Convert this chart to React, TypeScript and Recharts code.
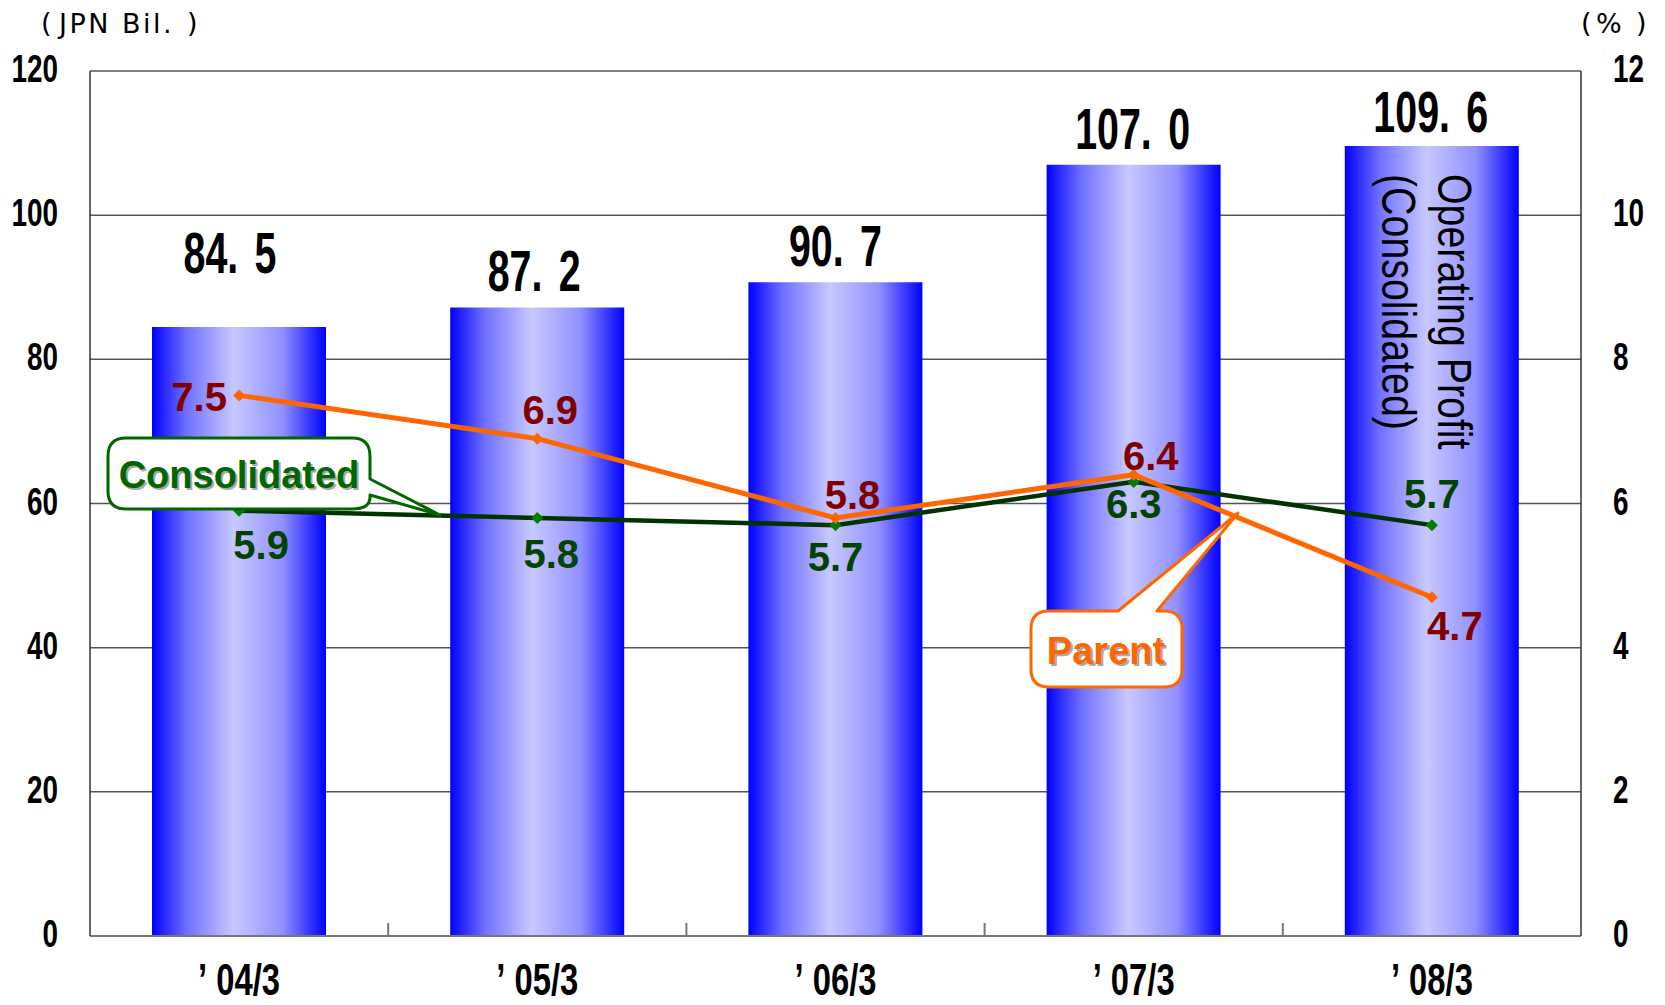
import React from "react";
import { Bar, CartesianGrid, ComposedChart, LabelList, Line, XAxis, YAxis } from "recharts";

const periods = ["’04/3", "’05/3", "’06/3", "’07/3", "’08/3"];
const operatingProfit = [84.5, 87.2, 90.7, 107.0, 109.6];
const parentMargin = [7.5, 6.9, 5.8, 6.4, 4.7];
const consolidatedMargin = [5.9, 5.8, 5.7, 6.3, 5.7];
const profitTicks = [0, 20, 40, 60, 80, 100, 120];
const marginTicks = [0, 2, 4, 6, 8, 10, 12];

const data = periods.map((period, i) => ({
  period,
  profit: operatingProfit[i],
  parent: parentMargin[i],
  consolidated: consolidatedMargin[i],
}));

const W = 1665;
const H = 1005;
const PLOT_LEFT = 90;
const PLOT_RIGHT = 1581;
const CAT_W = (PLOT_RIGHT - PLOT_LEFT) / periods.length;

const SANS = "'Liberation Sans', Arial, sans-serif";
const WIDE = "'DejaVu Sans', Verdana, sans-serif";

// hand-placed label nudges (centre of text relative to the point)
const parentLabelShift = [[-40, 2], [13, -29], [17, -23], [17, -19], [23, 29]];
const consolidatedLabelShift = [[22, 34], [14, 36], [0, 32], [0, 22], [0, -31]];
const barLabelGap = [54, 16, 16, 16, 14];
const barLabelDx = [-9, -3, 0, -1, -1];

// narrow + tall text, to mimic the condensed gothic digits of the original
function TallText({ x, y, anchor = "middle", size, scaleX = 0.82, scaleY = 1, fill = "#000", weight = "bold", children }: any) {
  return (
    <text
      transform={`translate(${x},${y}) scale(${scaleX},${scaleY})`}
      textAnchor={anchor}
      fontSize={size}
      fontWeight={weight}
      fontFamily={SANS}
      fill={fill}
    >
      {children}
    </text>
  );
}

function LeftTick({ x, y, payload }: any) {
  return <TallText x={x} y={y + 11} anchor="end" size={34} scaleY={1.12}>{payload.value}</TallText>;
}

function RightTick({ x, y, payload }: any) {
  return <TallText x={x} y={y + 11} anchor="start" size={34} scaleY={1.12}>{payload.value}</TallText>;
}

function PeriodTick({ x, y, payload, index }: any) {
  const label = String(payload.value);
  return (
    <g>
      {index > 0 ? <line x1={x - CAT_W / 2} x2={x - CAT_W / 2} y1={y} y2={y - 13} stroke="#777" strokeWidth={2} /> : null}
      <TallText x={x} y={y + 59} size={40} scaleY={1.12}>
        <tspan>{label.slice(0, 1)}</tspan>
        <tspan dx={11}>{label.slice(1)}</tspan>
      </TallText>
    </g>
  );
}

function BarValue(props: any) {
  const { x, y, width, value, index } = props;
  const [whole, dec] = Number(value).toFixed(1).split(".");
  return (
    <TallText x={x + width / 2 + barLabelDx[index]} y={y - barLabelGap[index]} size={48} scaleY={1.19}>
      <tspan>{whole}.</tspan>
      <tspan dx={20}>{dec}</tspan>
    </TallText>
  );
}

function lineLabel(shifts: number[][], color: string) {
  return (props: any) => {
    const { x, y, value, index } = props;
    const [dx, dy] = shifts[index];
    return (
      <text
        x={x + dx}
        y={y + dy + 14}
        textAnchor="middle"
        fontSize={40}
        fontWeight="bold"
        fontFamily={SANS}
        fill={color}
      >
        {Number(value).toFixed(1)}
      </text>
    );
  };
}

function diamond(color: string, r: number) {
  return (props: any) => {
    const { cx, cy, index } = props;
    return (
      <path
        key={index}
        d={`M${cx},${cy - r} L${cx + r},${cy} L${cx},${cy + r} L${cx - r},${cy} Z`}
        fill={color}
      />
    );
  };
}

function ShadowText({ x, y, color, children }: any) {
  return (
    <g fontFamily={SANS} fontWeight="bold" fontSize={38} textAnchor="middle">
      <text x={x + 2} y={y + 2} fill="#a8a8a8">{children}</text>
      <text x={x} y={y} fill={color}>{children}</text>
    </g>
  );
}

function Overlay() {
  const r = 18;
  const consolidatedPath = `M${108 + r},438 H${370 - r} Q370,438 370,${438 + r} V479 L440,515 L370,495 V${509 - r + 6} Q370,509 ${370 - r},509 H${108 + r} Q108,509 108,${509 - r} V${438 + r} Q108,438 ${108 + r},438 Z`;
  const parentPath = `M${1031 + r},611 H1118 L1238,513 L1157,611 H${1182 - r} Q1182,611 1182,${611 + r} V${687 - r} Q1182,687 ${1182 - r},687 H${1031 + r} Q1031,687 1031,${687 - r} V${611 + r} Q1031,611 ${1031 + r},611 Z`;
  return (
    <svg width={W} height={H} style={{ position: "absolute", left: 0, top: 0, pointerEvents: "none" }}>
      <g fontFamily={WIDE} fontSize={27} fill="#000">
        <text x={41} y={32}>(</text>
        <text x={59} y={33} letterSpacing={2.5}>JPN Bil.</text>
        <text x={187} y={32}>)</text>
        <text x={1581} y={32}>(</text>
        <text x={1596} y={33}>%</text>
        <text x={1636} y={32}>)</text>
      </g>

      <g fontFamily={SANS} fontSize={48} fill="#000">
        <text transform="translate(1438,174) rotate(90) scale(0.82,1)">Operating Profit</text>
        <text transform="translate(1382,174) rotate(90) scale(0.82,1)">(Consolidated)</text>
      </g>

      <path d={consolidatedPath} fill="#fff" stroke="#006600" strokeWidth={3} strokeLinejoin="round" />
      <ShadowText x={239} y={488} color="#006600">Consolidated</ShadowText>

      <path d={parentPath} fill="#fff" stroke="#ff6600" strokeWidth={3} strokeLinejoin="round" />
      <ShadowText x={1106} y={664} color="#ff6600">Parent</ShadowText>
    </svg>
  );
}

export default function App() {
  return (
    <div style={{ position: "relative", width: W, height: H, background: "#fff" }}>
      <style>{"body{margin:0}"}</style>
      <ComposedChart width={W} height={H} data={data} margin={{ top: 71, right: 0, bottom: 0, left: 0 }}>
        <defs>
          <linearGradient id="barGrad" x1="0" y1="0" x2="1" y2="0">
            <stop offset="0%" stopColor="#0000ff" />
            <stop offset="20%" stopColor="#7070ff" />
            <stop offset="47%" stopColor="#c8c8ff" />
            <stop offset="75%" stopColor="#9090ff" />
            <stop offset="100%" stopColor="#0000ff" />
          </linearGradient>
        </defs>
        <CartesianGrid vertical={false} stroke="#555" strokeWidth={1.5} yAxisId="left" />
        <XAxis
          dataKey="period"
          height={69}
          tick={<PeriodTick />}
          tickLine={false}
          tickSize={0}
          tickMargin={0}
          axisLine={{ stroke: "#777", strokeWidth: 2 }}
          interval={0}
        />
        <YAxis
          yAxisId="left"
          width={90}
          domain={[0, 120]}
          ticks={profitTicks}
          tick={<LeftTick />}
          tickLine={false}
          tickSize={0}
          tickMargin={32}
          axisLine={{ stroke: "#333", strokeWidth: 1.5 }}
        />
        <YAxis
          yAxisId="right"
          orientation="right"
          width={84}
          domain={[0, 12]}
          ticks={marginTicks}
          tick={<RightTick />}
          tickLine={false}
          tickSize={0}
          tickMargin={32}
          axisLine={{ stroke: "#333", strokeWidth: 1.5 }}
        />
        <Bar yAxisId="left" dataKey="profit" barSize={174} fill="url(#barGrad)" isAnimationActive={false}>
          <LabelList dataKey="profit" content={BarValue} />
        </Bar>
        <Line
          yAxisId="right"
          dataKey="consolidated"
          stroke="#003300"
          strokeWidth={4.5}
          dot={diamond("#008000", 6)}
          isAnimationActive={false}
        >
          <LabelList dataKey="consolidated" content={lineLabel(consolidatedLabelShift, "#004400")} />
        </Line>
        <Line
          yAxisId="right"
          dataKey="parent"
          stroke="#ff6600"
          strokeWidth={5}
          dot={diamond("#ff6600", 6)}
          isAnimationActive={false}
        >
          <LabelList dataKey="parent" content={lineLabel(parentLabelShift, "#800000")} />
        </Line>
      </ComposedChart>
      <Overlay />
    </div>
  );
}
